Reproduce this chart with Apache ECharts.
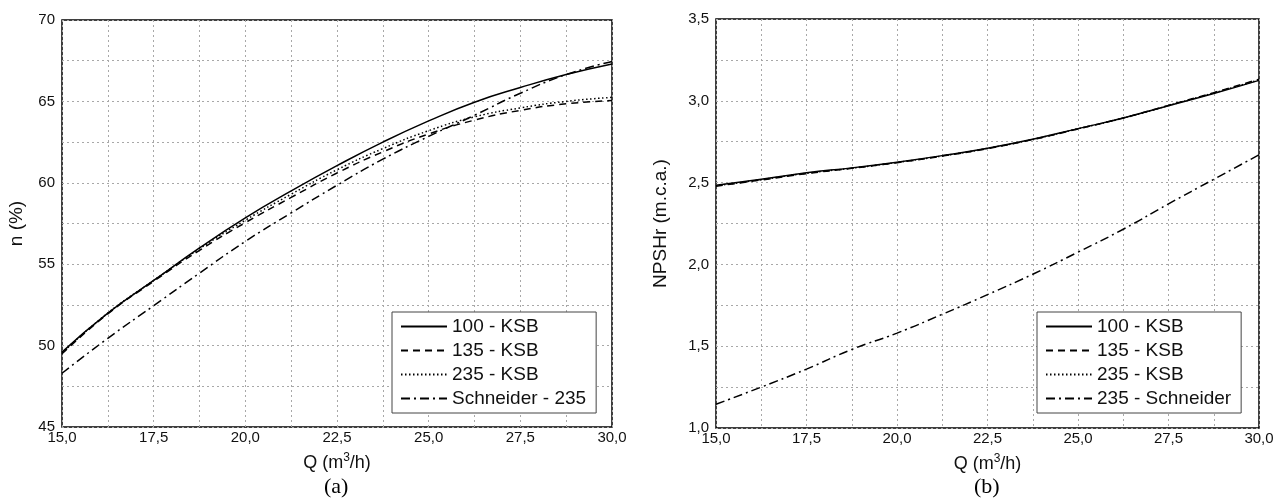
<!DOCTYPE html>
<html>
<head>
<meta charset="utf-8">
<script src="https://cdn.jsdelivr.net/npm/echarts@6/dist/echarts.min.js"></script>
<style>
  html, body { margin: 0; padding: 0; background: #fff; }
  #chart { width: 1282px; height: 500px; }
</style>
</head>
<body>
<div id="chart"></div>
<script>
// vazão (m3/h), pontos de leitura a cada 1,25
var q = [15, 16.25, 17.5, 18.75, 20, 21.25, 22.5, 23.75, 25, 26.25, 27.5, 28.75, 30];

// (a) rendimento n (%)
var ef100ksb = [49.6, 52.0, 54.0, 56.0, 57.85, 59.5, 61.05, 62.5, 63.8, 64.95, 65.85, 66.65, 67.3];
var ef135ksb = [49.5, 51.95, 53.95, 55.85, 57.55, 59.1, 60.6, 61.9, 63.0, 63.85, 64.45, 64.85, 65.05];
var ef235ksb = [49.55, 52.0, 54.0, 55.95, 57.7, 59.3, 60.8, 62.1, 63.2, 64.05, 64.6, 65.0, 65.25];
var efSchneider = [48.3, 50.45, 52.45, 54.45, 56.4, 58.15, 59.85, 61.45, 62.85, 64.15, 65.5, 66.65, 67.45];

// (b) NPSHr (m.c.a.)
var np100ksb = [2.484, 2.52, 2.56, 2.59, 2.625, 2.665, 2.71, 2.765, 2.83, 2.895, 2.97, 3.045, 3.125];
var np135ksb = [2.478, 2.516, 2.555, 2.587, 2.622, 2.662, 2.708, 2.763, 2.828, 2.895, 2.972, 3.05, 3.132];
var np235ksb = [2.48, 2.518, 2.557, 2.588, 2.623, 2.663, 2.709, 2.764, 2.829, 2.894, 2.971, 3.048, 3.128];
var npSchneider = [1.145, 1.25, 1.36, 1.48, 1.58, 1.695, 1.815, 1.94, 2.075, 2.215, 2.37, 2.52, 2.67];

var namesA = ['100 - KSB', '135 - KSB', '235 - KSB', 'Schneider - 235'];
var namesB = ['100 - KSB', '135 - KSB', '235 - KSB', '235 - Schneider'];
var dashes = ['solid', [7, 5], [1.5, 2.5], [9, 4, 2, 4]];

function pairs(ys) {
  return q.map(function (x, i) { return [x, ys[i]]; });
}
function fmt(v) {
  return v.toFixed(1).replace('.', ',');
}

var font = 'Liberation Sans';
var grid = { show: true, borderColor: '#000', borderWidth: 1.5, backgroundColor: '#fff' };
var split = { show: true, lineStyle: { color: '#a8a8a8', type: [2, 3], width: 1 } };

function xAxis(idx) {
  return {
    type: 'value', gridIndex: idx, min: 15, max: 30, interval: 1.25,
    axisLine: { show: false }, axisTick: { show: false },
    splitLine: split,
    axisLabel: {
      color: '#111', fontFamily: font, fontSize: 15, margin: 3,
      formatter: function (v) { return (v % 2.5 === 0) ? fmt(v) : ''; }
    },
    name: 'Q (m{s|3}/h)', nameLocation: 'middle', nameGap: 25,
    nameTextStyle: {
      color: '#111', fontFamily: font, fontSize: 18,
      rich: { s: { fontSize: 12, verticalAlign: 'top', padding: [0, 0, 10, 0], fontFamily: font, color: '#111' } }
    }
  };
}

function series(names, data, xi, yi) {
  return names.map(function (n, i) {
    return {
      name: n, type: 'line', xAxisIndex: xi, yAxisIndex: yi,
      data: pairs(data[i]), smooth: true, symbol: 'none', color: '#000',
      lineStyle: { color: '#000', width: 1.5, type: dashes[i] }
    };
  });
}

function legend(names, left, top, width) {
  return {
    data: names, orient: 'vertical', left: left, top: top, width: width,
    itemWidth: 46, itemHeight: 14, itemGap: 5,
    padding: [5, 10, 5, 8],
    itemStyle: { opacity: 0 },
    borderColor: '#444', borderWidth: 1, backgroundColor: '#fff',
    textStyle: { color: '#111', fontFamily: font, fontSize: 19 }
  };
}

var chart = echarts.init(document.getElementById('chart'));
chart.setOption({
  animation: false,
  backgroundColor: '#fff',
  grid: [
    Object.assign({ left: 62, top: 20, width: 550, height: 407 }, grid),
    Object.assign({ left: 716, top: 19, width: 543, height: 409 }, grid)
  ],
  xAxis: [xAxis(0), xAxis(1)],
  yAxis: [
    {
      type: 'value', gridIndex: 0, min: 45, max: 70, interval: 2.5,
      axisLine: { show: false }, axisTick: { show: false }, splitLine: split,
      axisLabel: {
        color: '#111', fontFamily: font, fontSize: 15, margin: 7,
        formatter: function (v) { return (v % 5 === 0) ? String(v) : ''; }
      },
      name: 'n (%)', nameLocation: 'middle', nameGap: 36,
      nameTextStyle: { color: '#111', fontFamily: font, fontSize: 19 }
    },
    {
      type: 'value', gridIndex: 1, min: 1, max: 3.5, interval: 0.25,
      axisLine: { show: false }, axisTick: { show: false }, splitLine: split,
      axisLabel: {
        color: '#111', fontFamily: font, fontSize: 15, margin: 7,
        formatter: function (v) { return (Math.round(v * 100) % 50 === 0) ? fmt(v) : ''; }
      },
      name: 'NPSHr (m.c.a.)', nameLocation: 'middle', nameGap: 46,
      nameTextStyle: { color: '#111', fontFamily: font, fontSize: 19 }
    }
  ],
  legend: [
    legend(namesA, 392, 312, 209),
    legend(namesB, 1037, 312, 205)
  ],
  series: series(namesA, [ef100ksb, ef135ksb, ef235ksb, efSchneider], 0, 0)
    .concat(series(namesB, [np100ksb, np135ksb, np235ksb, npSchneider], 1, 1)),
  graphic: [
    { type: 'text', left: 324, top: 476, style: { text: '(a)', fontFamily: 'Liberation Serif', fontSize: 22, fill: '#000' } },
    { type: 'text', left: 974, top: 476, style: { text: '(b)', fontFamily: 'Liberation Serif', fontSize: 22, fill: '#000' } }
  ]
});
</script>
</body>
</html>
